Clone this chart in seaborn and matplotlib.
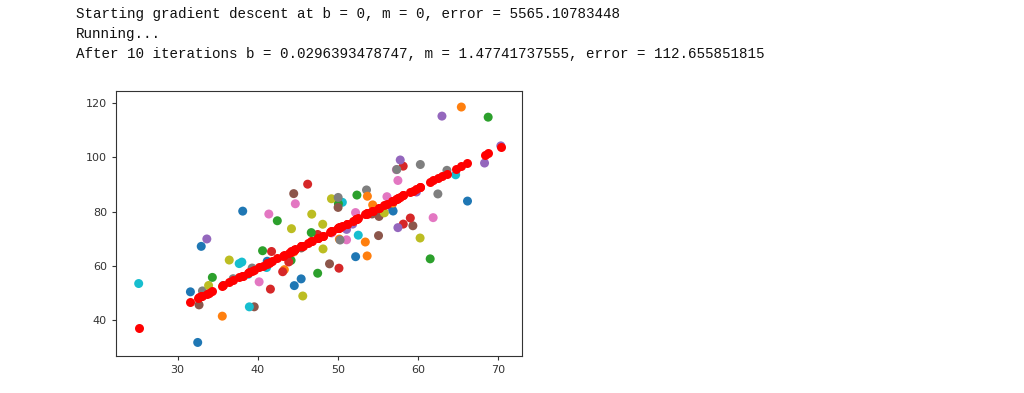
import pandas as pd
import matplotlib
matplotlib.use("Agg")
import matplotlib.pyplot as plt
import seaborn as sns

# data points (x, y)
x_vals = [32.50, 53.43, 61.53, 47.48, 59.81, 55.14, 52.21, 39.30, 48.11, 52.55,
          45.42, 54.35, 44.16, 58.17, 56.73, 48.96, 44.69, 60.30, 45.62, 38.82,
          66.19, 65.42, 47.48, 41.58, 51.85, 59.37, 57.31, 63.62, 46.74, 50.56,
          52.22, 35.57, 42.44, 58.16, 57.50, 45.44, 61.90, 33.09, 36.44, 37.68,
          44.56, 43.32, 50.07, 43.87, 63.00, 32.67, 40.17, 53.58, 33.86, 64.71,
          38.12, 44.50, 40.60, 41.72, 51.09, 55.08, 41.38, 62.49, 49.20, 41.10,
          41.18, 50.19, 52.38, 50.14, 33.64, 39.56, 56.13, 57.36, 60.27, 35.68,
          31.59, 53.66, 46.68, 43.11, 70.35, 44.49, 57.50, 36.93, 55.81, 38.95,
          56.90, 56.87, 34.33, 59.05, 57.79, 54.28, 51.09, 50.28, 44.21, 38.01,
          32.94, 53.69, 68.77, 46.23, 68.32, 50.03, 49.24, 50.04, 48.15, 25.13]
y_vals = [31.71, 68.78, 62.56, 71.55, 87.23, 78.21, 79.64, 59.17, 75.33, 71.30,
          55.17, 82.48, 62.01, 75.39, 81.44, 60.72, 82.89, 97.38, 48.85, 56.88,
          83.88, 118.59, 57.25, 51.39, 75.38, 74.77, 95.46, 95.23, 79.05, 83.43,
          63.36, 41.41, 76.62, 96.77, 74.08, 66.59, 77.77, 50.72, 62.12, 60.81,
          52.68, 58.57, 82.91, 61.42, 115.24, 45.57, 54.08, 87.99, 52.73, 93.58,
          80.17, 65.10, 65.56, 65.28, 73.43, 71.14, 79.10, 86.52, 84.74, 59.36,
          61.68, 69.85, 86.10, 59.11, 69.90, 44.86, 85.50, 95.54, 70.25, 52.72,
          50.39, 63.64, 72.25, 57.81, 104.26, 86.64, 91.49, 55.23, 79.55, 44.85,
          80.21, 83.14, 55.72, 77.63, 99.05, 79.12, 69.59, 69.51, 73.69, 61.37,
          67.17, 85.67, 114.85, 90.12, 97.92, 81.54, 72.11, 85.23, 66.22, 53.45]
# predicted values after 10 iterations
y_pred = [48.05, 78.97, 90.94, 70.18, 88.39, 81.49, 77.16, 58.09, 71.11, 77.67,
          67.13, 80.33, 65.27, 85.97, 83.84, 72.36, 66.05, 89.12, 67.43, 57.38,
          97.82, 96.68, 70.18, 61.46, 76.63, 87.74, 84.70, 94.02, 69.08, 74.73,
          77.18, 52.58, 62.73, 85.96, 84.98, 67.16, 91.48, 48.92, 53.87, 55.70,
          65.86, 64.03, 74.00, 64.84, 93.11, 48.30, 59.38, 79.19, 50.05, 95.63,
          56.35, 65.77, 60.01, 61.67, 75.51, 81.40, 61.16, 92.35, 72.72, 60.75,
          60.87, 74.18, 77.42, 74.11, 49.73, 58.48, 82.96, 84.77, 89.07, 52.74,
          46.70, 79.31, 68.99, 63.72, 103.96, 65.76, 84.98, 54.59, 82.48, 57.57,
          84.09, 84.05, 50.75, 87.27, 85.41, 80.22, 75.51, 74.31, 65.35, 56.19,
          48.70, 79.35, 101.63, 68.33, 100.97, 73.94, 72.78, 73.96, 71.17, 37.16]

lines = [
    "Starting gradient descent at b = 0, m = 0, error = 5565.10783448",
    "Running...",
    "After 10 iterations b = 0.0296393478747, m = 1.47741737555, error = 112.655851815",
]

df = pd.DataFrame({"x": x_vals, "y": y_vals, "pred": y_pred})
df["idx"] = range(len(df))

tab10 = sns.color_palette("tab10")
palette = [tab10[i % 10] for i in range(len(df))]

fig = plt.figure(figsize=(10.24, 3.93), dpi=100)
ax = fig.add_axes([0.1133, 0.0941, 0.3965, 0.6743])

sns.scatterplot(data=df, x="x", y="y", hue="idx", palette=palette,
                s=42, linewidth=0, legend=False, ax=ax)
sns.scatterplot(data=df, x="x", y="pred", color="red",
                s=42, linewidth=0, ax=ax)

ax.set_xlim(22.3, 73.0)
ax.set_ylim(26.7, 124.5)
ax.set_xticks([30, 40, 50, 60, 70])
ax.set_yticks([40, 60, 80, 100, 120])
ax.set_xlabel("")
ax.set_ylabel("")
ax.tick_params(labelsize=8, length=3, colors="#333333")
for sp in ax.spines.values():
    sp.set_color("#333333")

for i, t in enumerate(lines):
    fig.text(76 / 1024, 1 - (14 + 20 * i) / 393, t, va="center", ha="left",
             family=["Liberation Mono", "DejaVu Sans Mono"], fontsize=10.3,
             color="#111111")

fig.savefig("out.png", dpi=100)
